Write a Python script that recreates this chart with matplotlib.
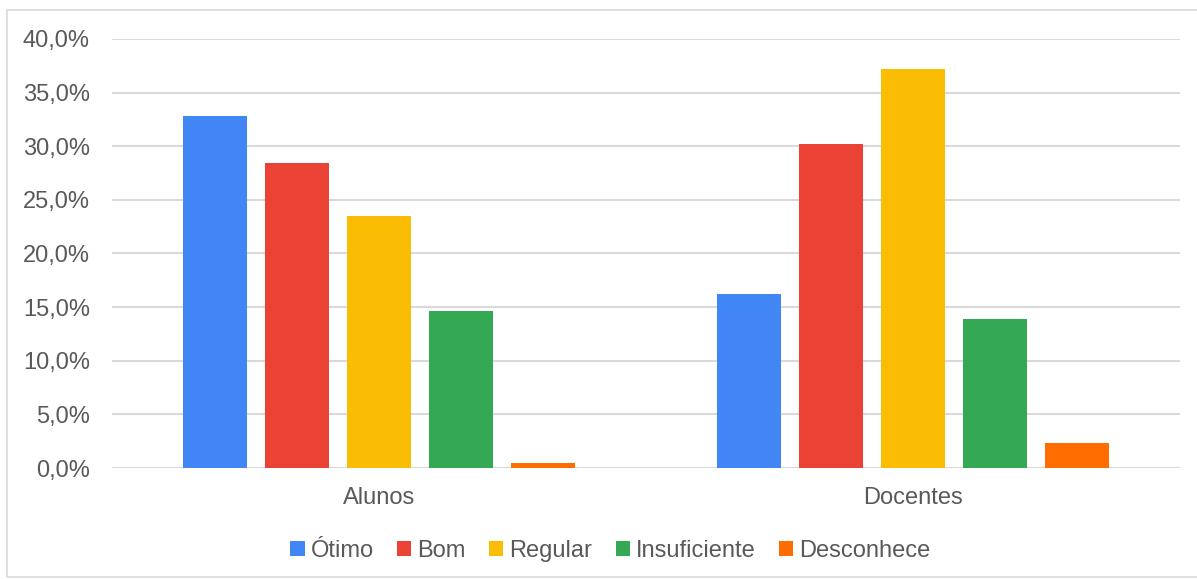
import numpy as np
import matplotlib.pyplot as plt
from matplotlib.patches import Rectangle
from matplotlib.ticker import FuncFormatter

plt.rcParams['font.family'] = ['Liberation Sans', 'DejaVu Sans']

groups = ['Alunos', 'Docentes']
series = ['Ótimo', 'Bom', 'Regular', 'Insuficiente', 'Desconhece']
values = {
    'Ótimo': [32.8, 16.2],
    'Bom': [28.4, 30.2],
    'Regular': [23.5, 37.2],
    'Insuficiente': [14.6, 13.9],
    'Desconhece': [0.5, 2.3],
}
colors = ['#4285F4', '#EA4335', '#FBBC04', '#34A853', '#FF6D01']
yticks = [0, 5, 10, 15, 20, 25, 30, 35, 40]

txt = '#595959'
fig = plt.figure(figsize=(11.97, 5.79), dpi=100)
ax = fig.add_axes([0.0936, 0.1917, 0.892, 0.741])

x = np.arange(len(groups))
step = 0.1536
width = 0.12
for j, name in enumerate(series):
    ax.bar(x + (j - 2) * step, values[name], width, color=colors[j], label=name, zorder=3)

ax.set_xlim(-0.5, 1.5)
ax.set_ylim(0, 40)
ax.set_yticks(yticks)
ax.yaxis.set_major_formatter(FuncFormatter(lambda v, p: f'{v:.1f}%'.replace('.', ',')))
ax.set_xticks(x)
ax.set_xticklabels(groups)
ax.grid(axis='y', color='#d9d9d9', linewidth=1.5, zorder=0)
for s in ax.spines.values():
    s.set_visible(False)
ax.tick_params(axis='both', length=0, labelsize=17, colors=txt)
ax.tick_params(axis='y', pad=16)
ax.tick_params(axis='x', pad=13.5)

leg = fig.legend(loc='center', bbox_to_anchor=(0.51, 0.048), ncol=5, frameon=False,
                 fontsize=17, handlelength=0.6, handleheight=0.6, handletextpad=0.25,
                 columnspacing=1.0)
for t in leg.get_texts():
    t.set_color(txt)

# chart border
fig.patches.append(Rectangle((0.006, 0.003), 1.0, 0.98, transform=fig.transFigure,
                             fill=False, edgecolor='#d9d9d9', linewidth=1.2))

fig.savefig('out.png', dpi=100)
